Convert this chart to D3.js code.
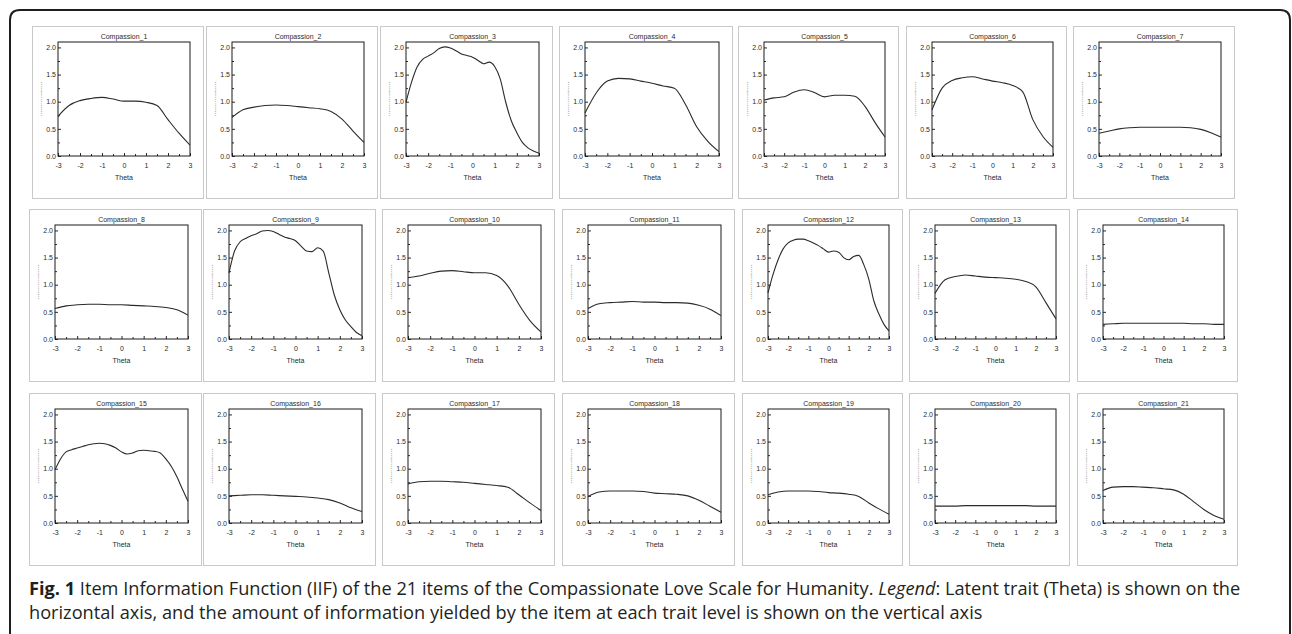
<!DOCTYPE html>
<html>
<head>
<meta charset="utf-8">
<script src="https://cdn.jsdelivr.net/npm/d3@7"></script>
<style>
  html, body { margin: 0; padding: 0; background: #fff; }
  svg { display: block; }
</style>
</head>
<body>
<svg id="chart" width="1292" height="634"></svg>
<script>
// ---------------- DATA ----------------
const thetaCoarse = [-3, -2.5, -2, -1.5, -1, -0.5, 0, 0.5, 1, 1.5, 2, 2.5, 3];
const thetaFine = [-3, -2.75, -2.5, -2.25, -2, -1.75, -1.5, -1.25, -1, -0.75, -0.5, -0.25, 0,
                   0.25, 0.5, 0.75, 1, 1.25, 1.5, 1.75, 2, 2.25, 2.5, 2.75, 3];

const xTickValues = [-3, -2, -1, 0, 1, 2, 3];
const xTickLabels = ["-3", "-2", "-1", "0", "1", "2", "3"];
const yTickValues = [0, 0.5, 1, 1.5, 2];
const yTickLabels = ["0.0", "0.5", "1.0", "1.5", "2.0"];

const itemNames = ["Compassion_1", "Compassion_2", "Compassion_3", "Compassion_4", "Compassion_5",
  "Compassion_6", "Compassion_7", "Compassion_8", "Compassion_9", "Compassion_10", "Compassion_11",
  "Compassion_12", "Compassion_13", "Compassion_14", "Compassion_15", "Compassion_16",
  "Compassion_17", "Compassion_18", "Compassion_19", "Compassion_20", "Compassion_21"];

// information values (coarse grid unless noted)
const info1  = [0.73, 0.93, 1.02, 1.06, 1.08, 1.05, 1.01, 1.01, 0.99, 0.93, 0.67, 0.42, 0.20];
const info2  = [0.71, 0.85, 0.90, 0.93, 0.94, 0.93, 0.91, 0.89, 0.87, 0.82, 0.68, 0.46, 0.25];
const info3  = [0.99, 1.36, 1.64, 1.78, 1.84, 1.90, 1.98, 2.01, 1.99, 1.94, 1.88, 1.85, 1.82,
                1.76, 1.70, 1.73, 1.65, 1.42, 0.99, 0.65, 0.43, 0.25, 0.15, 0.09, 0.05]; // fine
const info4  = [0.79, 1.16, 1.38, 1.43, 1.42, 1.38, 1.34, 1.29, 1.25, 0.95, 0.54, 0.27, 0.08];
const info5  = [1.03, 1.07, 1.09, 1.18, 1.22, 1.17, 1.09, 1.12, 1.12, 1.10, 0.92, 0.62, 0.35];
const info6  = [0.85, 1.25, 1.39, 1.44, 1.46, 1.42, 1.38, 1.35, 1.30, 1.18, 0.67, 0.36, 0.16];
const info7  = [0.42, 0.46, 0.50, 0.52, 0.53, 0.53, 0.53, 0.53, 0.53, 0.52, 0.49, 0.43, 0.35];
const info8  = [0.56, 0.61, 0.63, 0.64, 0.64, 0.63, 0.63, 0.62, 0.61, 0.60, 0.58, 0.54, 0.44];
const info9  = [1.22, 1.62, 1.79, 1.85, 1.90, 1.94, 1.99, 2.00, 1.98, 1.93, 1.88, 1.85, 1.81,
                1.71, 1.62, 1.61, 1.68, 1.62, 1.22, 0.81, 0.54, 0.35, 0.23, 0.12, 0.06]; // fine
const info10 = [1.13, 1.16, 1.21, 1.25, 1.26, 1.24, 1.22, 1.22, 1.17, 0.98, 0.64, 0.34, 0.13];
const info11 = [0.56, 0.65, 0.67, 0.68, 0.69, 0.68, 0.68, 0.67, 0.67, 0.66, 0.62, 0.55, 0.43];
const info12 = [0.85, 1.19, 1.46, 1.66, 1.77, 1.82, 1.84, 1.84, 1.81, 1.77, 1.72, 1.66, 1.60,
                1.62, 1.60, 1.50, 1.46, 1.52, 1.54, 1.37, 1.10, 0.70, 0.46, 0.27, 0.15]; // fine
const info13 = [0.84, 1.09, 1.15, 1.18, 1.16, 1.14, 1.13, 1.12, 1.10, 1.06, 0.96, 0.67, 0.37];
const info14 = [0.27, 0.28, 0.29, 0.29, 0.29, 0.29, 0.29, 0.29, 0.29, 0.28, 0.28, 0.27, 0.27];
const info15 = [0.98, 1.18, 1.31, 1.35, 1.38, 1.41, 1.44, 1.46, 1.47, 1.46, 1.43, 1.38, 1.31,
                1.27, 1.29, 1.33, 1.34, 1.33, 1.32, 1.29, 1.18, 1.04, 0.85, 0.62, 0.40]; // fine
const info16 = [0.50, 0.51, 0.52, 0.52, 0.51, 0.50, 0.49, 0.48, 0.46, 0.43, 0.37, 0.28, 0.21];
const info17 = [0.72, 0.76, 0.77, 0.77, 0.76, 0.75, 0.73, 0.71, 0.69, 0.66, 0.52, 0.37, 0.23];
const info18 = [0.49, 0.57, 0.59, 0.59, 0.59, 0.58, 0.55, 0.54, 0.53, 0.50, 0.42, 0.31, 0.20];
const info19 = [0.52, 0.57, 0.59, 0.59, 0.59, 0.58, 0.56, 0.55, 0.53, 0.49, 0.37, 0.26, 0.16];
const info20 = [0.31, 0.31, 0.31, 0.32, 0.32, 0.32, 0.32, 0.32, 0.32, 0.32, 0.31, 0.31, 0.31];
const info21 = [0.60, 0.66, 0.67, 0.67, 0.66, 0.65, 0.63, 0.61, 0.53, 0.39, 0.25, 0.14, 0.07];

const captionBold = "Fig. 1";
const captionLine1a = " Item Information Function (IIF) of the 21 items of the Compassionate Love Scale for Humanity. ";
const captionItalic = "Legend";
const captionLine1b = ": Latent trait (Theta) is shown on the";
const captionLine2 = "horizontal axis, and the amount of information yielded by the item at each trait level is shown on the vertical axis";

const xAxisTitle = "Theta";
const yAxisTitle = "Information";

// ---------------- BUILD ----------------
const infoSeries = [info1, info2, info3, info4, info5, info6, info7, info8, info9, info10, info11,
  info12, info13, info14, info15, info16, info17, info18, info19, info20, info21];
const items = itemNames.map((name, i) => {
  const vals = infoSeries[i];
  const grid = vals.length === thetaFine.length ? thetaFine : thetaCoarse;
  return { name, points: grid.map((t, j) => [t, vals[j]]) };
});

// layout
const rowTops = [26, 209, 393];
const panelH = 172;
const colX = [[32, 206, 380, 559, 738, 906, 1073],
              [29, 203, 382, 562, 742, 909, 1077],
              [29, 203, 382, 562, 742, 909, 1077]];
const colW = [[171, 171, 172, 173, 160, 160, 161],
              [172, 172, 172, 172, 160, 160, 160],
              [172, 172, 172, 172, 160, 160, 160]];

const svg = d3.select("#chart");
svg.append("rect").attr("width", 1292).attr("height", 634).attr("fill", "#fff");

// outer frame (rounded top, open bottom)
svg.append("path")
  .attr("d", "M10,700 L10,20 Q10,10 20,10 L1280,10 Q1290,10 1290,20 L1290,700")
  .attr("fill", "none").attr("stroke", "#1e1e1e").attr("stroke-width", 2);

const fontSmall = "'Liberation Sans', Arial, sans-serif";
const ink = "#2a2a2a";

items.forEach((item, idx) => {
  const r = Math.floor(idx / 7), c = idx % 7;
  const px = colX[r][c], py = rowTops[r], pw = colW[r][c];
  const g = svg.append("g");

  // panel border
  g.append("rect").attr("x", px + 0.5).attr("y", py + 0.5)
    .attr("width", pw).attr("height", panelH)
    .attr("fill", "#fff").attr("stroke", "#c9c9c9").attr("stroke-width", 1);

  const left = px + 26, right = px + pw - 13;
  const top = py + 16, bottom = py + 130;

  const x = d3.scaleLinear().domain([-3, 3]).range([left, right]);
  const y = d3.scaleLinear().domain([0, 2.1]).range([bottom, top]);

  // minor ticks (inward)
  const xMinor = d3.axisBottom(x).tickValues([-2.5, -1.5, -0.5, 0.5, 1.5, 2.5])
    .tickSize(-2).tickFormat("");
  const gxm = g.append("g").attr("transform", `translate(0,${bottom})`).call(xMinor);
  const yMinor = d3.axisLeft(y).tickValues([0.25, 0.75, 1.25, 1.75])
    .tickSize(-2).tickFormat("");
  const gym = g.append("g").attr("transform", `translate(${left},0)`).call(yMinor);
  [gxm, gym].forEach(a => { a.select(".domain").remove(); a.selectAll("line").attr("stroke", ink); });

  // major x axis
  const xAxis = d3.axisBottom(x).tickValues(xTickValues)
    .tickFormat((d, i) => xTickLabels[i]).tickSizeInner(-3).tickSizeOuter(0).tickPadding(7);
  const gx = g.append("g").attr("transform", `translate(0,${bottom})`).call(xAxis);
  gx.select(".domain").remove();
  gx.selectAll("line").attr("stroke", ink);
  gx.selectAll("text").attr("font-family", fontSmall).attr("font-size", 7).attr("fill", ink);

  // major y axis
  const yAxis = d3.axisLeft(y).tickValues(yTickValues)
    .tickFormat((d, i) => yTickLabels[i]).tickSizeInner(-3).tickSizeOuter(0).tickPadding(2);
  const gy = g.append("g").attr("transform", `translate(${left},0)`).call(yAxis);
  gy.select(".domain").remove();
  gy.selectAll("line").attr("stroke", ink);
  gy.selectAll("text").attr("font-family", fontSmall).attr("font-size", 7).attr("fill", ink);

  // plot box
  g.append("rect").attr("x", left).attr("y", top)
    .attr("width", right - left).attr("height", bottom - top)
    .attr("fill", "none").attr("stroke", "#1a1a1a").attr("stroke-width", 1);

  // curve
  const line = d3.line().x(d => x(d[0])).y(d => y(d[1])).curve(d3.curveMonotoneX);
  g.append("path").datum(item.points).attr("d", line)
    .attr("fill", "none").attr("stroke", "#2b2b2b").attr("stroke-width", 1.1);

  // title
  g.append("text").attr("x", (left + right) / 2).attr("y", top - 3)
    .attr("text-anchor", "middle").attr("font-family", fontSmall).attr("font-size", 7)
    .attr("fill", ink).text(item.name);

  // x axis title
  g.append("text").attr("x", (left + right) / 2).attr("y", bottom + 24)
    .attr("text-anchor", "middle").attr("font-family", fontSmall).attr("font-size", 7)
    .attr("fill", ink).text(xAxisTitle);

  // y axis title (tiny, nearly illegible as in the source)
  g.append("text")
    .attr("transform", `translate(${px + 10},${(top + bottom) / 2}) rotate(-90) scale(1,0.22)`)
    .attr("text-anchor", "middle").attr("font-family", fontSmall).attr("font-size", 7)
    .attr("fill", "#8a8a8a").text(yAxisTitle);
});

// caption
const capFont = "'Open Sans', 'Noto Sans', sans-serif";
const cap1 = svg.append("text").attr("x", 29).attr("y", 595)
  .attr("font-family", capFont).attr("font-size", 18.2).attr("fill", "#231f20");
cap1.append("tspan").attr("font-weight", "bold").text(captionBold);
cap1.append("tspan").text(captionLine1a);
cap1.append("tspan").attr("font-style", "italic").text(captionItalic);
cap1.append("tspan").text(captionLine1b);

svg.append("text").attr("x", 29).attr("y", 619)
  .attr("font-family", capFont).attr("font-size", 18.2).attr("fill", "#231f20")
  .text(captionLine2);
</script>
</body>
</html>
